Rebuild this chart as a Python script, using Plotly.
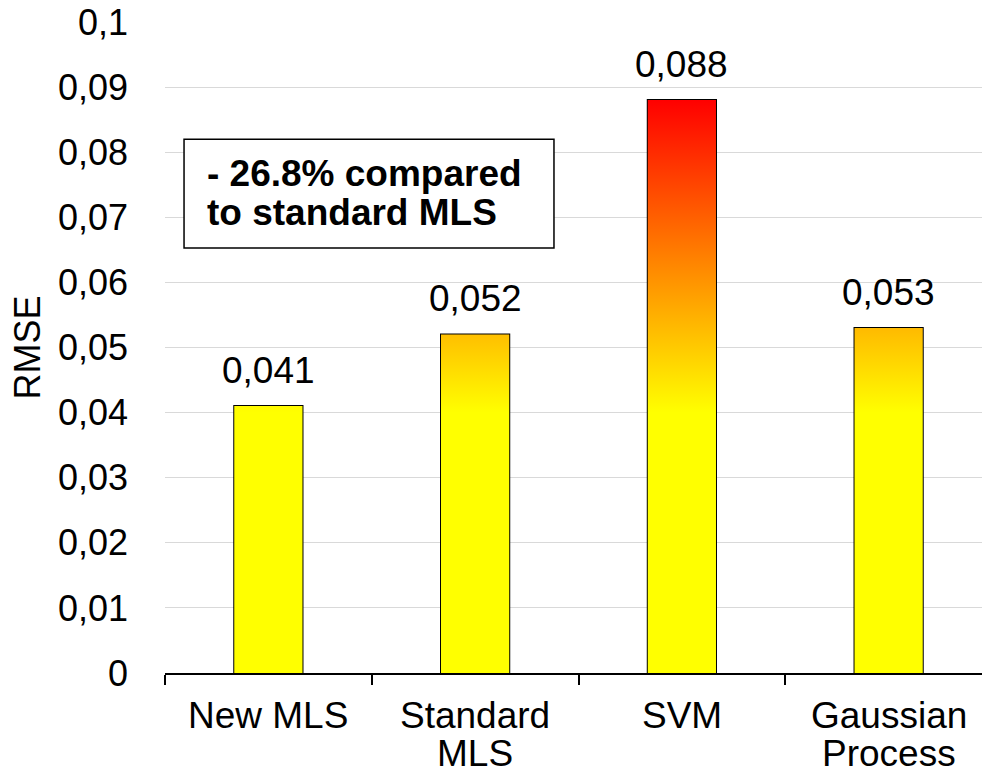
import plotly.graph_objects as go

# ---- data ----
categories = ["New MLS", "Standard MLS", "SVM", "Gaussian Process"]
label_line1 = ["New MLS", "Standard", "SVM", "Gaussian"]
label_line2 = ["", "MLS", "", "Process"]
rmse = [0.041, 0.052, 0.088, 0.053]
y_tick_vals = [0, 0.01, 0.02, 0.03, 0.04, 0.05, 0.06, 0.07, 0.08, 0.09, 0.1]
y_tick_text = ["0", "0,01", "0,02", "0,03", "0,04", "0,05", "0,06", "0,07", "0,08", "0,09", "0,1"]
note_lines = ["- 26.8% compared", "to standard MLS"]

FONT = "Liberation Sans, Arial, sans-serif"
FS = 36
FS_L = 37
bar_width = 0.33
x_pos = list(range(len(categories)))
boundaries = [i - 0.5 for i in x_pos]
value_labels = [f"{v:.3f}".replace(".", ",") for v in rmse]
gradient = [[0, "#FFFF00"], [0.04 / max(rmse), "#FFFF00"], [1, "#FF0000"]]

fig = go.Figure()
for x, v in zip(x_pos, rmse):
    xl, xr = x - bar_width / 2, x + bar_width / 2
    fig.add_trace(go.Scatter(
        x=[xl, xr, xr, xl, xl], y=[0, 0, v, v, 0],
        mode="lines", line=dict(width=0), fill="toself",
        fillgradient=dict(type="vertical", colorscale=gradient, start=0, stop=max(rmse)),
        hoverinfo="skip", showlegend=False))

fig.add_trace(go.Bar(
    x=x_pos, y=rmse, width=bar_width,
    marker=dict(color="rgba(0,0,0,0)", line=dict(color="black", width=2)),
    hoverinfo="skip", showlegend=False))

# value labels above bars
for x, v, t in zip(x_pos, rmse, value_labels):
    fig.add_annotation(x=x, xref="x", y=v, yref="y", text=t, showarrow=False,
                       xanchor="center", yanchor="bottom", yshift=13,
                       font=dict(family=FONT, size=FS_L, color="black"))

fig.update_layout(
    width=982, height=776,
    margin=dict(l=165, r=0, t=22, b=103),
    paper_bgcolor="white", plot_bgcolor="white",
    font=dict(family=FONT, size=FS, color="black"),
    showlegend=False,
    xaxis=dict(
        range=[-0.5, 3.4516], tickvals=x_pos, ticktext=label_line1,
        showticklabels=False, ticks="",
        showline=True, linecolor="black", linewidth=2,
        showgrid=False, zeroline=False,
        minor=dict(tickmode="array", tickvals=boundaries, ticks="outside",
                   ticklen=10, tickwidth=1.5, tickcolor="black", showgrid=False),
    ),
    yaxis=dict(
        range=[0, 0.1], tickvals=y_tick_vals, ticktext=y_tick_text,
        showgrid=True, gridcolor="#D9D9D9", gridwidth=1,
        zeroline=False, showline=False, ticks="",
        ticklabelstandoff=36,
        tickfont=dict(family=FONT, size=FS, color="black"),
        title=dict(text="RMSE", font=dict(family=FONT, size=FS, color="black"), standoff=6),
    ),
)

# category labels (two lines)
for x, l1, l2 in zip(x_pos, label_line1, label_line2):
    fig.add_annotation(x=x, xref="x", y=-0.0646, yref="paper", text=l1,
                       showarrow=False, xanchor="center", yanchor="middle",
                       font=dict(family=FONT, size=FS_L, color="black"))
    if l2:
        fig.add_annotation(x=x, xref="x", y=-0.1238, yref="paper", text=l2,
                           showarrow=False, xanchor="center", yanchor="middle",
                           font=dict(family=FONT, size=FS_L, color="black"))

# note box
fig.add_shape(type="rect", xref="paper", yref="paper",
              x0=0.0233, x1=0.4761, y0=0.6527, y1=0.8200,
              line=dict(color="black", width=1.5), fillcolor="white", layer="above")
for yy, line in zip([0.7678, 0.7072], note_lines):
    fig.add_annotation(x=0.049, xref="paper", y=yy, yref="paper", text=f"<b>{line}</b>",
                       showarrow=False, xanchor="left", yanchor="middle",
                       font=dict(family=FONT, size=FS_L, color="black"))

fig.write_html("out.html")
